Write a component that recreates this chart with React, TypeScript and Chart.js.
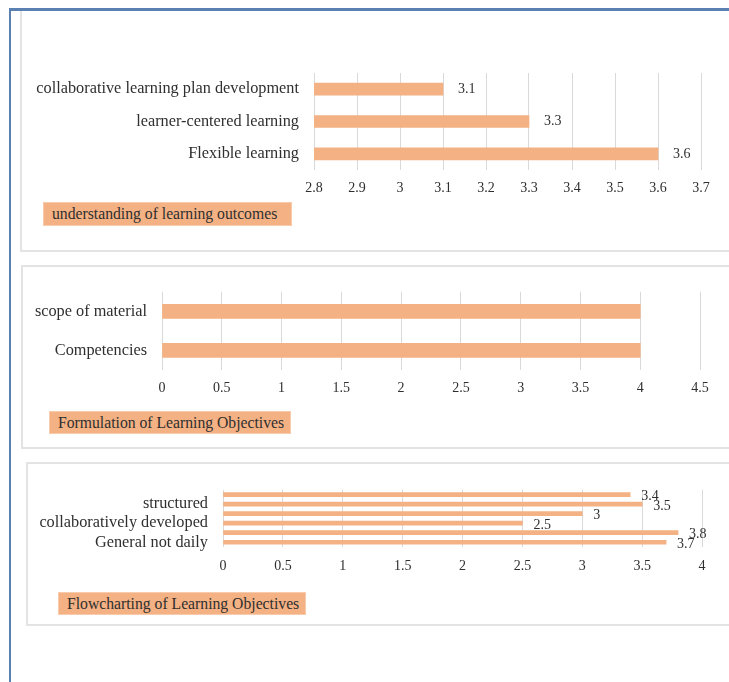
import React, { useEffect, useRef } from "react";
import { Chart, registerables } from "chart.js";

Chart.register(...registerables);

// ---------- data ----------
const chart1Categories = ["collaborative learning plan development", "learner-centered learning", "Flexible learning"];
const chart1Values = [3.1, 3.3, 3.6];
const chart1Ticks = [2.8, 2.9, 3, 3.1, 3.2, 3.3, 3.4, 3.5, 3.6, 3.7];
const chart1Series = "understanding of learning outcomes";

const chart2Categories = ["scope of material", "Competencies"];
const chart2Values = [4, 4];
const chart2Ticks = [0, 0.5, 1, 1.5, 2, 2.5, 3, 3.5, 4, 4.5];
const chart2Series = "Formulation of Learning Objectives";

const chart3Categories = ["", "structured", "", "collaboratively developed", "", "General not daily"];
const chart3Values = [3.4, 3.5, 3, 2.5, 3.8, 3.7];
const chart3Ticks = [0, 0.5, 1, 1.5, 2, 2.5, 3, 3.5, 4];
const chart3Series = "Flowcharting of Learning Objectives";

// ---------- styles ----------
const BAR_COLOR = "#f4b183";
const GRID_COLOR = "#d9d9d9";
const TEXT_COLOR = "#2f2f2f";
const FONT_FAMILY = "'Liberation Serif', 'Times New Roman', serif";

const valueLabelPlugin = {
  id: "valueLabels",
  afterDatasetsDraw(chart: any, _args: any, opts: any) {
    if (!opts || !opts.show) return;
    const ctx = chart.ctx;
    const meta = chart.getDatasetMeta(0);
    const data = chart.data.datasets[0].data;
    ctx.save();
    ctx.font = `${opts.size || 14}px ${FONT_FAMILY}`;
    ctx.fillStyle = TEXT_COLOR;
    ctx.textAlign = "left";
    ctx.textBaseline = "middle";
    meta.data.forEach((bar: any, i: number) => {
      ctx.fillText(String(data[i]), bar.x + (opts.dx || 0), bar.y + (opts.dy || 0));
    });
    ctx.restore();
  },
};

type Props = {
  categories: string[];
  values: number[];
  ticks: number[];
  left: number;
  top: number;
  width: number;
  height: number;
  padTop: number;
  padRight: number;
  yWidth: number;
  xHeight: number;
  xTickPad: number;
  barThickness: number;
  labels: { show: boolean; dx?: number; dy?: number; size?: number };
};

function BarChart(p: Props) {
  const ref = useRef<HTMLCanvasElement | null>(null);
  useEffect(() => {
    if (!ref.current) return;
    const chart = new Chart(ref.current, {
      type: "bar",
      data: {
        labels: p.categories,
        datasets: [
          {
            data: p.values,
            backgroundColor: BAR_COLOR,
            borderWidth: 0,
            barThickness: p.barThickness,
          },
        ],
      },
      options: {
        indexAxis: "y",
        animation: false,
        responsive: false,
        devicePixelRatio: 1,
        layout: { padding: { top: p.padTop, right: p.padRight, left: 0, bottom: 0 } },
        plugins: {
          legend: { display: false },
          tooltip: { enabled: false },
          valueLabels: p.labels,
        } as any,
        scales: {
          x: {
            type: "linear",
            min: p.ticks[0],
            max: p.ticks[p.ticks.length - 1],
            afterBuildTicks: (scale: any) => {
              scale.ticks = p.ticks.map((v) => ({ value: v }));
            },
            afterFit: (scale: any) => {
              scale.height = p.xHeight;
            },
            grid: { color: GRID_COLOR, lineWidth: 1, drawTicks: false },
            border: { display: false },
            ticks: {
              padding: p.xTickPad,
              color: TEXT_COLOR,
              font: { family: FONT_FAMILY, size: 14 },
              maxRotation: 0,
              autoSkip: false,
              callback: (v: any) => String(v),
            },
          },
          y: {
            type: "category",
            afterFit: (scale: any) => {
              scale.width = p.yWidth;
            },
            grid: { display: false, drawTicks: false },
            border: { display: false },
            ticks: {
              padding: 15,
              color: TEXT_COLOR,
              autoSkip: false,
              font: { family: FONT_FAMILY, size: 16.3 },
            },
          },
        },
      },
      plugins: [valueLabelPlugin],
    } as any);
    return () => chart.destroy();
  }, []);
  return (
    <canvas
      ref={ref}
      width={p.width}
      height={p.height}
      style={{ position: "absolute", left: p.left, top: p.top, width: p.width, height: p.height }}
    />
  );
}

function SeriesBox(props: { text: string; left: number; top: number; width: number; height: number }) {
  return (
    <div
      style={{
        position: "absolute",
        left: props.left,
        top: props.top,
        width: props.width,
        height: props.height,
        background: BAR_COLOR,
        border: "1px solid #f8cbad",
        boxSizing: "border-box",
        fontFamily: FONT_FAMILY,
        fontSize: 15.7,
        color: TEXT_COLOR,
        lineHeight: `${props.height - 2}px`,
        paddingLeft: 8,
        whiteSpace: "nowrap",
      }}
    >
      {props.text}
    </div>
  );
}

function Frame(props: { left: number; top: number; bottom: number; hideTop?: boolean }) {
  return (
    <div
      style={{
        position: "absolute",
        left: props.left,
        top: props.top,
        width: 729 - props.left + 10,
        height: props.bottom - props.top,
        border: "2px solid #e3e3e3",
        borderTop: props.hideTop ? "none" : "2px solid #e3e3e3",
        boxSizing: "border-box",
      }}
    />
  );
}

export default function App() {
  return (
    <div
      style={{
        position: "absolute",
        left: 0,
        top: 0,
        width: 729,
        height: 682,
        background: "#ffffff",
        overflow: "hidden",
      }}
    >
      <Frame left={20} top={10} bottom={252} hideTop />
      <Frame left={21} top={265} bottom={449} />
      <Frame left={26} top={462} bottom={626} />

      {/* blue page frame */}
      <div style={{ position: "absolute", left: 9, top: 8, width: 720, height: 3, background: "#5b80b2" }} />
      <div style={{ position: "absolute", left: 9, top: 8, width: 2, height: 674, background: "#5b80b2" }} />

      <BarChart
        categories={chart1Categories}
        values={chart1Values}
        ticks={chart1Ticks}
        left={22}
        top={12}
        width={707}
        height={236}
        padTop={61}
        padRight={28}
        yWidth={292}
        xHeight={78}
        xTickPad={10}
        barThickness={12}
        labels={{ show: true, dx: 15, dy: 0, size: 14 }}
      />
      <SeriesBox text={chart1Series} left={43} top={202} width={249} height={24} />

      <BarChart
        categories={chart2Categories}
        values={chart2Values}
        ticks={chart2Ticks}
        left={22}
        top={267}
        width={707}
        height={180}
        padTop={21}
        padRight={29}
        yWidth={140}
        xHeight={77}
        xTickPad={10}
        barThickness={14}
        labels={{ show: false }}
      />
      <SeriesBox text={chart2Series} left={49} top={411} width={242} height={23} />

      <BarChart
        categories={chart3Categories}
        values={chart3Values}
        ticks={chart3Ticks}
        left={28}
        top={465}
        width={701}
        height={158}
        padTop={22}
        padRight={27}
        yWidth={195}
        xHeight={76}
        xTickPad={11}
        barThickness={4}
        labels={{ show: true, dx: 11, dy: 2, size: 14 }}
      />
      <SeriesBox text={chart3Series} left={58} top={592} width={248} height={23} />
    </div>
  );
}
